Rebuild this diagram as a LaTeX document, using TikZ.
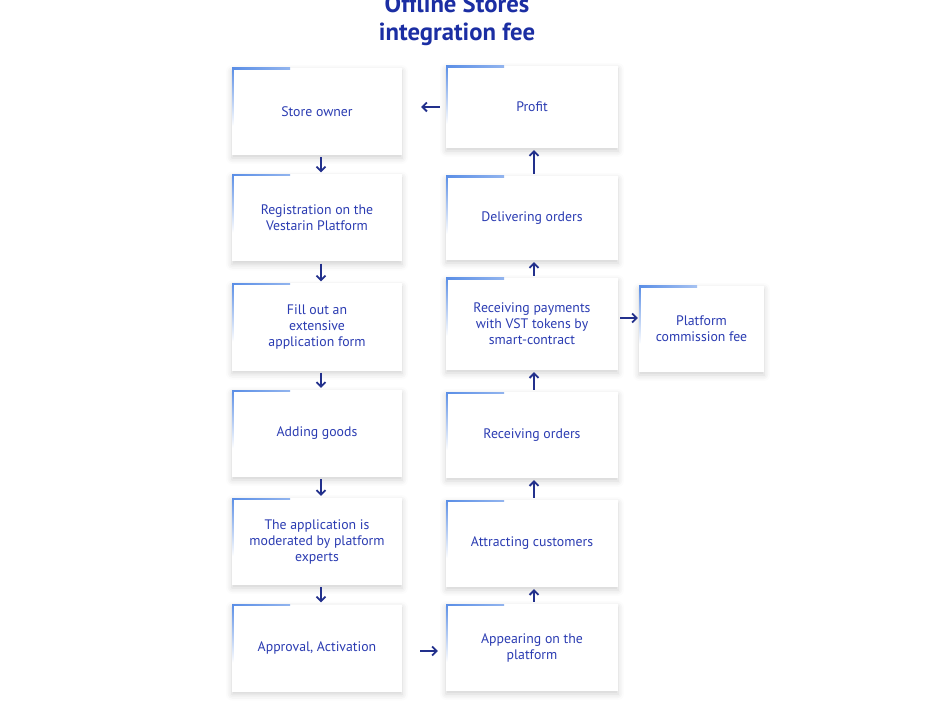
\documentclass[tikz,border=0pt]{standalone}
\usepackage{fontspec}
\setmainfont{PT Sans}
\usetikzlibrary{arrows.meta,shadows.blur}
\definecolor{txtblue}{HTML}{2B3CB2}
\definecolor{titleblue}{HTML}{1B2EA3}
\definecolor{arrblue}{HTML}{22308C}
\definecolor{edgeblue}{HTML}{5A8EE6}
\tikzset{
  card/.style={fill=white, draw=none, minimum width=170pt, minimum height=87pt,
    inner sep=4pt, align=center, text=txtblue, font=\fontsize{13.8}{16}\selectfont,
    blur shadow={shadow xshift=0pt, shadow yshift=-3pt, shadow blur radius=6pt, shadow opacity=18},
    path picture={
      \shade[left color=edgeblue, right color=white]
        (path picture bounding box.north west) rectangle ++(58pt,-1.3pt);
      \shade[top color=edgeblue, bottom color=white]
        (path picture bounding box.north west) rectangle ++(1.3pt,-58pt);
    }},
  arr/.style={draw=arrblue, line width=1.8pt, -{Straight Barb[length=4.5pt,width=9pt]}},
}
\begin{document}
\begin{tikzpicture}[x=1pt,y=-1pt]
\useasboundingbox (0,0) rectangle (938,722);
\node[text=titleblue, font=\bfseries\fontsize{24.7}{28}\selectfont, align=center] (title) at (457,20) {Offline Stores\\integration fee};
% left column
\node[card] (owner) at (317,111.5) {Store owner};
\node[card] (reg) at (317,218) {Registration on the\\Vestarin Platform};
\node[card] (fill) at (317,327) {Fill out an\\extensive\\application form};
\node[card] (goods) at (317,433.5) {Adding goods};
\node[card] (moder) at (317,541.5) {The application is\\moderated by platform\\experts};
\node[card] (appr) at (317,648) {Approval, Activation};
% right column
\node[card, minimum width=172pt, minimum height=82pt] (profit) at (532,107) {Profit};
\node[card, minimum width=172pt, minimum height=84pt] (deliv) at (532,218) {Delivering orders};
\node[card, minimum width=172pt, minimum height=92pt] (pay) at (532,324) {Receiving payments\\with VST tokens by\\smart-contract};
\node[card, minimum width=172pt, minimum height=86pt] (orders) at (532,435) {Receiving orders};
\node[card, minimum width=172pt] (attr) at (532,543.5) {Attracting customers};
\node[card, minimum width=172pt] (appear) at (532,647.5) {Appearing on the\\platform};
\node[card, minimum width=125pt, minimum height=86pt] (fee) at (701.5,329) {Platform\\commission fee};
% arrows down (left)
\foreach \a/\b in {owner/reg, reg/fill, fill/goods, goods/moder, moder/appr}
  \draw[arr, shorten <=2pt, shorten >=2pt] ([xshift=4pt]\a.south) -- ([xshift=4pt]\b.north);
% arrows up (right)
\foreach \a/\b in {appear/attr, attr/orders, orders/pay, pay/deliv, deliv/profit}
  \draw[arr, shorten <=2pt, shorten >=2pt] ([xshift=2pt]\a.north) -- ([xshift=2pt]\b.south);
\draw[arr, shorten <=6pt, shorten >=19pt] (profit.west) -- (profit.west -| owner.east);
\draw[arr, shorten <=18pt, shorten >=8pt] ([yshift=-3pt]appr.east) -- ([yshift=-3pt]appr.east -| appear.west);
\draw[arr, shorten <=2pt, shorten >=1pt] ([yshift=6pt]pay.east) -- ([yshift=6pt]pay.east -| fee.west);
\end{tikzpicture}
\end{document}
